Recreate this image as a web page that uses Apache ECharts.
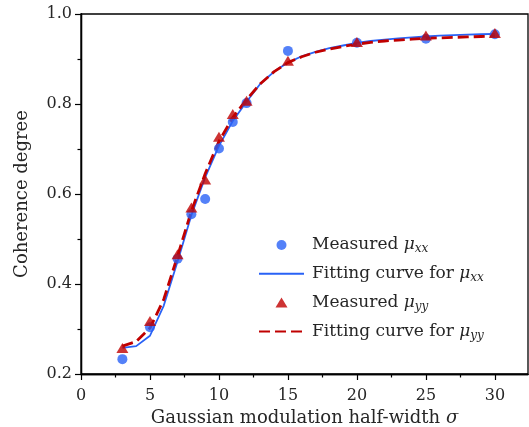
<!DOCTYPE html>
<html><head><meta charset="utf-8">
<script src="https://cdn.jsdelivr.net/npm/echarts@6/dist/echarts.min.js"></script>
<style>html,body{margin:0;padding:0;background:#fff}#c{width:529px;height:427px}</style>
</head><body><div id="c"></div>
<script>
var measX = [3, 5, 7, 8, 9, 10, 11, 12, 15, 20, 25, 30];
var measXX = [0.233, 0.304, 0.456, 0.555, 0.589, 0.701, 0.760, 0.802, 0.918, 0.936, 0.945, 0.955];
var measYY = [0.258, 0.318, 0.466, 0.570, 0.632, 0.727, 0.778, 0.807, 0.896, 0.938, 0.952, 0.958];
var fitX = [3,4,5,6,7,8,9,10,11,12,13,14,15,16,17,18,19,20,21,22,23,24,25,26,27,28,29,30];
var fitXX = [0.258,0.262,0.285,0.352,0.450,0.553,0.637,0.707,0.762,0.805,0.845,0.872,0.892,0.906,0.916,0.924,0.930,0.936,0.940,0.943,0.946,0.948,0.950,0.952,0.953,0.954,0.955,0.956];
var fitYY = [0.262,0.272,0.302,0.366,0.462,0.562,0.645,0.717,0.770,0.810,0.845,0.872,0.892,0.905,0.915,0.922,0.928,0.933,0.937,0.940,0.942,0.944,0.946,0.947,0.948,0.949,0.950,0.951];
var xTicks = [0, 5, 10, 15, 20, 25, 30];
var xMinor = [2.5, 7.5, 12.5, 17.5, 22.5, 27.5];
var yTicks = [0.2, 0.4, 0.6, 0.8, 1.0];
var yMinor = [0.3, 0.5, 0.7, 0.9];
var names = ['Measured μxx', 'Fitting curve for μxx', 'Measured μyy', 'Fitting curve for μyy'];

var FONT = 'DejaVu Serif';
var TXT = '#262626';
var BLUE = '#2962f6', RED = '#c00000';
function zip(a, b) { return a.map(function (v, i) { return [v, b[i]]; }); }

var rich = {
  a: {fontFamily: FONT, fontSize: 17, color: TXT, lineHeight: 21},
  m: {fontFamily: FONT, fontSize: 17, fontStyle: 'italic', color: TXT, lineHeight: 21},
  s: {fontFamily: FONT, fontSize: 12, fontStyle: 'italic', color: TXT, lineHeight: 13, padding: [8, 0, 0, 0]}
};
function legendFmt(n) {
  var m = n.match(/^(.*)μ(\w+)$/);
  return '{a|' + m[1] + '}{m|μ}{s|' + m[2] + '}';
}
function axisPair(isX, ticks, minor, min, max) {
  var base = {
    type: 'value', min: min, max: max,
    position: isX ? 'bottom' : 'left',
    axisLine: {show: true, onZero: false, lineStyle: {color: '#000', width: 1.3}},
    splitLine: {show: false}
  };
  var major = Object.assign({}, base, {
    axisTick: {show: true, inside: false, length: 6, lineStyle: {color: '#000', width: 1.2}, customValues: ticks},
    axisLabel: {show: true, customValues: ticks, fontFamily: FONT, fontSize: 16, color: TXT,
      margin: isX ? 14 : 9, formatter: function (v) { return isX ? String(v) : v.toFixed(1); }}
  });
  var minorAx = Object.assign({}, base, {
    axisTick: {show: true, inside: false, length: 3.5, lineStyle: {color: '#000', width: 1.2}, customValues: minor},
    axisLabel: {show: false}
  });
  return [major, minorAx];
}
var xs = axisPair(true, xTicks, xMinor, 0, 32.4);
var ys = axisPair(false, yTicks, yMinor, 0.2, 1.0);
xs[0].name = '{a|Gaussian modulation half-width }{m|σ}';
xs[0].nameLocation = 'middle';
xs[0].nameGap = 33;
xs[0].nameTextStyle = {rich: {a: {fontFamily: FONT, fontSize: 18, color: TXT}, m: {fontFamily: FONT, fontSize: 18, fontStyle: 'italic', color: TXT}}};
ys[0].name = 'Coherence degree';
ys[0].nameLocation = 'middle';
ys[0].nameGap = 50;
ys[0].nameTextStyle = {fontFamily: FONT, fontSize: 18, color: TXT};

var chart = echarts.init(document.getElementById('c'), null, {renderer: 'canvas'});
chart.setOption({
  animation: false,
  backgroundColor: '#fff',
  grid: {left: 81, top: 14, right: 1, bottom: 53, outerBoundsMode: 'none', containLabel: false,
    show: true, borderColor: '#000', borderWidth: 1.3, backgroundColor: 'transparent'},
  xAxis: xs,
  yAxis: ys,
  legend: {
    orient: 'vertical', left: 258, top: 235, padding: 0,
    itemWidth: 45, itemHeight: 10, itemGap: 8.8,
    data: [
      {name: names[0], icon: 'circle'},
      {name: names[1], itemStyle: {color: 'rgba(0,0,0,0)', borderWidth: 0}},
      {name: names[2], icon: 'path://M0,10 L6,0 L12,10 Z'},
      {name: names[3], itemStyle: {color: 'rgba(0,0,0,0)', borderWidth: 0}}
    ],
    formatter: legendFmt,
    textStyle: {rich: rich, padding: [0, 0, 0, 3]}
  },
  series: [
    {name: names[0], type: 'scatter', data: zip(measX, measXX), symbol: 'circle', symbolSize: 10, itemStyle: {color: BLUE}, z: 3},
    {name: names[1], type: 'line', data: zip(fitX, fitXX), symbol: 'none', lineStyle: {color: BLUE, width: 1.8}, itemStyle: {color: BLUE}, z: 2},
    {name: names[2], type: 'scatter', data: zip(measX, measYY), symbol: 'triangle', symbolSize: [12, 10], itemStyle: {color: RED}, z: 4},
    {name: names[3], type: 'line', data: zip(fitX, fitYY), symbol: 'none', lineStyle: {color: RED, width: 2.8, type: [11, 5]}, itemStyle: {color: RED}, z: 3}
  ]
});
</script></body></html>
